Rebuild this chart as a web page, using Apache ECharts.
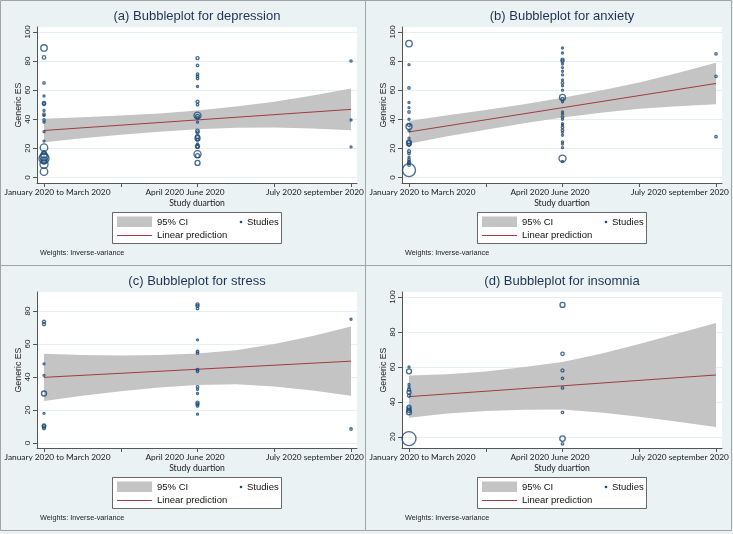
<!DOCTYPE html>
<html><head><meta charset="utf-8">
<script src="https://cdn.jsdelivr.net/npm/echarts@6/dist/echarts.min.js"></script>
<style>html,body{margin:0;padding:0;background:#eaf2f3}#c{width:733px;height:534px}</style>
</head><body><div id="c"></div>
<script>
// ---------- data ----------
const periods = ['January 2020 to March 2020', 'April 2020 June 2020', 'July 2020 september 2020'];
const panelTitles = ['(a) Bubbleplot for depression', '(b) Bubbleplot for anxiety', '(c) Bubbleplot for stress', '(d) Bubbleplot for insomnia'];
const xTickValues = [1, 1.5, 2, 2.5, 3];
const yTicksAB = [0, 20, 40, 60, 80, 100];
const yTicksC = [0, 20, 40, 60, 80];
const yTicksD = [20, 40, 60, 80, 100];

// depression
const depJanES = [89, 82.5, 65, 56, 51, 50.5, 46, 43.5, 42.5, 39.5, 38, 31.5, 25, 20.5, 17, 15.5, 14, 13, 12, 11, 9, 4];
const depJanW  = [42, 12, 6, 4, 12, 9, 4, 6, 4, 6, 4, 4, 4, 56, 16, 36, 64, 100, 36, 25, 64, 56];
const depAprES = [82, 77, 71, 69.5, 68, 62.5, 52, 50, 42.5, 42, 41, 38, 32, 31, 28, 27, 26, 23, 21.5, 21, 16, 15, 10];
const depAprW  = [9, 6, 6, 6, 6, 4, 9, 6, 49, 16, 6, 4, 12, 9, 16, 25, 9, 4, 16, 9, 49, 16, 25];
const depJulES = [80, 39.5, 21];
const depJulW  = [5, 4, 4];
// anxiety
const anxJanES = [92, 77.5, 61.5, 51.5, 48, 45, 40, 36, 35, 32, 27, 24.5, 23.5, 22.5, 18, 16.5, 14, 12.5, 11, 10, 8.5, 5];
const anxJanW  = [42, 4, 6, 4, 4, 6, 4, 9, 36, 4, 4, 16, 25, 9, 9, 6, 4, 6, 6, 9, 6, 169];
const anxAprES = [89, 85.5, 81, 80, 78, 75.5, 73, 70.5, 67, 65, 63, 60, 55, 54, 52, 45, 43.5, 41.5, 40, 37, 36, 34.5, 32.5, 31, 29, 24.5, 23, 20.5, 13, 11];
const anxAprW  = [4, 4, 9, 9, 4, 4, 4, 4, 4, 6, 4, 4, 36, 9, 4, 4, 4, 6, 4, 4, 4, 6, 6, 4, 4, 4, 4, 4, 49, 4];
const anxJulES = [85, 69.5, 28];
const anxJulW  = [6, 6, 6];
// stress
const strJanES = [73.5, 72, 48, 41, 30, 18, 10.5, 10, 9];
const strJanW  = [9, 9, 4, 4, 25, 4, 12, 12, 9];
const strAprES = [84, 83, 81.5, 62.5, 55.5, 54.5, 44.5, 43.5, 34, 32.5, 30, 24.5, 23.5, 22.5, 17.5];
const strAprW  = [9, 9, 6, 4, 6, 6, 6, 6, 6, 4, 4, 9, 9, 6, 4];
const strJulES = [75, 8.5];
const strJulW  = [4, 6];
// insomnia
const insJanES = [60, 57.5, 50, 48.5, 47, 45.5, 43.5, 37, 36, 35, 34, 19];
const insJanW  = [4, 25, 4, 4, 9, 16, 9, 16, 16, 16, 25, 196];
const insAprES = [95.5, 67.5, 58, 53.5, 48, 34, 19, 16];
const insAprW  = [25, 12, 9, 6, 6, 6, 30, 6];
const insJulES = [];
const insJulW  = [];

// confidence bands and fitted line
const ciX = [1, 1.25, 1.5, 1.75, 2, 2.25, 2.5, 2.75, 3];
const depUpper = [40.4, 41.3, 42.5, 44.0, 46.1, 48.7, 52.0, 56.3, 61.2];
const depLower = [24.2, 26.9, 29.3, 31.4, 33.1, 34.1, 34.4, 33.7, 32.4];
const anxUpper = [38.8, 42.7, 46.4, 50.4, 54.8, 59.7, 65.3, 71.8, 78.8];
const anxLower = [23.2, 28.3, 32.8, 37.2, 41.2, 44.5, 47.3, 49.0, 50.4];
const strUpper = [54.1, 53.3, 53.0, 53.3, 54.2, 56.2, 60.0, 64.9, 70.6];
const strLower = [25.5, 28.7, 31.4, 33.7, 35.2, 35.6, 34.3, 31.9, 28.6];
const insUpper = [55.1, 55.8, 57.4, 59.9, 62.8, 67.6, 73.1, 79.1, 85.2];
const insLower = [30.9, 33.3, 34.8, 35.5, 35.6, 33.9, 31.5, 28.6, 25.6];
const fitX = [1, 3];
const depFit = [32.3, 46.8];
const anxFit = [31.3, 64.6];
const strFit = [39.8, 49.6];
const insFit = [43.0, 55.4];

// ---------- build ----------
const NAVY = '#1b4a78';
// label anchor positions along x (labels in the reference sit inside the plot width)
const xLabelAt = [1.088, 1.919, 2.765];
const panels = [
  { ox: 0,   oy: 0,   ymin: -3.8, ymax: 103.4, ticks: yTicksAB, es: [depJanES, depAprES, depJulES], w: [depJanW, depAprW, depJulW], up: depUpper, lo: depLower, fit: depFit },
  { ox: 365, oy: 0,   ymin: -3.8, ymax: 103.4, ticks: yTicksAB, es: [anxJanES, anxAprES, anxJulES], w: [anxJanW, anxAprW, anxJulW], up: anxUpper, lo: anxLower, fit: anxFit },
  { ox: 0,   oy: 265, ymin: -3,   ymax: 91.5,  ticks: yTicksC,  es: [strJanES, strAprES, strJulES], w: [strJanW, strAprW, strJulW], up: strUpper, lo: strLower, fit: strFit },
  { ox: 365, oy: 265, ymin: 13.6, ymax: 102.9, ticks: yTicksD,  es: [insJanES, insAprES, insJulES], w: [insJanW, insAprW, insJulW], up: insUpper, lo: insLower, fit: insFit }
];

const grid = [], xAxis = [], yAxis = [], series = [], title = [], graphic = [];
const axisCol = '#555';
const SANS = 'Liberation Sans, Arial, sans-serif';
const XFONT = 'Lato, Liberation Sans, sans-serif';

panels.forEach((p, i) => {
  grid.push({ left: p.ox + 37, top: p.oy + 27, width: 320, height: 156, show: true, backgroundColor: '#ffffff', borderWidth: 0, containLabel: false, outerBoundsMode: 'none' });
  xAxis.push({
    type: 'value', gridIndex: i, min: 0.9544, max: 3.039,
    axisLine: { show: true, onZero: false, lineStyle: { color: axisCol, width: 1 } },
    axisTick: { show: true, length: 4, customValues: xTickValues, lineStyle: { color: axisCol } },
    axisLabel: {
      customValues: xLabelAt,
      formatter: v => { let best = 0; xLabelAt.forEach((a, k) => { if (Math.abs(a - v) < Math.abs(xLabelAt[best] - v)) best = k; }); return periods[best]; },
      fontFamily: XFONT, fontSize: 8.3, color: '#1a1a1a', margin: 5
    },
    splitLine: { show: false },
    name: 'Study duartion', nameLocation: 'middle', nameGap: 16,
    nameTextStyle: { fontFamily: XFONT, fontSize: 8.6, color: '#1a1a1a' }
  });
  yAxis.push({
    type: 'value', gridIndex: i, min: p.ymin, max: p.ymax,
    axisLine: { show: true, onZero: false, lineStyle: { color: axisCol, width: 1 } },
    axisTick: { show: true, length: 4, customValues: p.ticks, lineStyle: { color: axisCol } },
    axisLabel: { customValues: p.ticks, rotate: 90, fontFamily: SANS, fontSize: 8, color: '#222', margin: 5 },
    splitLine: { show: true, lineStyle: { color: '#e6eef0', width: 1 } },
    name: 'Generic ES', nameLocation: 'middle', nameGap: 14,
    nameTextStyle: { fontFamily: SANS, fontSize: 8.8, color: '#222' }
  });
  // CI band
  const up = p.up, lo = p.lo;
  series.push({
    type: 'custom', xAxisIndex: i, yAxisIndex: i, silent: true, z: 1,
    data: [[ciX[0], lo[0]]],
    renderItem: function (params, api) {
      const pts = [];
      for (let k = 0; k < ciX.length; k++) pts.push(api.coord([ciX[k], up[k]]));
      for (let k = ciX.length - 1; k >= 0; k--) pts.push(api.coord([ciX[k], lo[k]]));
      return { type: 'polygon', shape: { points: pts }, style: { fill: '#c4c4c4', stroke: 'none' } };
    }
  });
  // fitted line
  series.push({
    type: 'line', xAxisIndex: i, yAxisIndex: i, silent: true, z: 2, symbol: 'none',
    data: fitX.map((x, k) => [x, p.fit[k]]),
    lineStyle: { color: '#a13a40', width: 1 }
  });
  // bubbles
  const pts = [];
  p.es.forEach((arr, g) => arr.forEach((v, k) => pts.push([g + 1, v, p.w[g][k]])));
  series.push({
    type: 'scatter', xAxisIndex: i, yAxisIndex: i, silent: true, z: 3,
    data: pts,
    symbol: 'circle',
    symbolSize: v => Math.sqrt(v[2]),
    itemStyle: { color: 'rgba(255,255,255,0)', borderColor: NAVY, borderWidth: 1.35 }
  });
  title.push({
    text: panelTitles[i], left: p.ox + 197, top: p.oy + 10, textAlign: 'center', padding: 0,
    textStyle: { fontFamily: SANS, fontSize: 13, fontWeight: 'normal', color: '#1f3252' }
  });
  // panel border
  graphic.push({ type: 'rect', shape: { x: p.ox + 0.5, y: p.oy + 0.5, width: i % 2 ? 366 : 365, height: 265 }, style: { fill: 'none', stroke: '#a0a4a6', lineWidth: 1 }, silent: true, z: -1 });
  // legend box
  const lx = p.ox, ly = p.oy;
  graphic.push({ type: 'rect', shape: { x: lx + 112.5, y: ly + 212.5, width: 169, height: 31 }, style: { fill: '#fff', stroke: '#444', lineWidth: 0.8 }, silent: true });
  graphic.push({ type: 'rect', shape: { x: lx + 117, y: ly + 216.5, width: 35, height: 10.5 }, style: { fill: '#c4c4c4' }, silent: true });
  graphic.push({ type: 'text', x: lx + 157, y: ly + 222, style: { text: '95% CI', fontFamily: SANS, fontSize: 9.5, fill: '#111', verticalAlign: 'middle' }, silent: true });
  graphic.push({ type: 'circle', shape: { cx: lx + 241, cy: ly + 222, r: 1.3 }, style: { fill: NAVY }, silent: true });
  graphic.push({ type: 'text', x: lx + 247, y: ly + 222, style: { text: 'Studies', fontFamily: SANS, fontSize: 9.5, fill: '#111', verticalAlign: 'middle' }, silent: true });
  graphic.push({ type: 'line', shape: { x1: lx + 117, y1: ly + 235.5, x2: lx + 152, y2: ly + 235.5 }, style: { stroke: '#a13a40', lineWidth: 1 }, silent: true });
  graphic.push({ type: 'text', x: lx + 157, y: ly + 235.5, style: { text: 'Linear prediction', fontFamily: SANS, fontSize: 9.5, fill: '#111', verticalAlign: 'middle' }, silent: true });
  graphic.push({ type: 'text', x: lx + 40, y: ly + 252.5, style: { text: 'Weights: Inverse-variance', fontFamily: SANS, fontSize: 7.3, fill: '#222', verticalAlign: 'middle' }, silent: true });
});

const chart = echarts.init(document.getElementById('c'), null, { renderer: 'canvas' });
chart.setOption({
  backgroundColor: '#eaf2f3',
  animation: false,
  title, grid, xAxis, yAxis, series, graphic
});
</script></body></html>
